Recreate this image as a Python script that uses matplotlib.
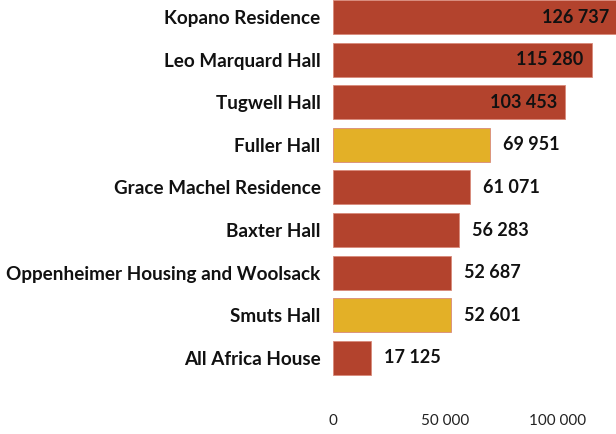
import matplotlib
matplotlib.use('Agg')
import matplotlib.pyplot as plt

plt.rcParams['font.family'] = ['Lato', 'DejaVu Sans']

halls = ['Kopano Residence', 'Leo Marquard Hall', 'Tugwell Hall', 'Fuller Hall',
         'Grace Machel Residence', 'Baxter Hall', 'Oppenheimer Housing and Woolsack',
         'Smuts Hall', 'All Africa House']
values = [126737, 115280, 103453, 69951, 61071, 56283, 52687, 52601, 17125]
highlight = [False, False, False, True, False, False, False, True, False]
inside = [True, True, True, False, False, False, False, False, False]

RED = '#b3432d'
GOLD = '#e3b027'


def fmt(v):
    return f'{v:,}'.replace(',', ' ')


fig = plt.figure(figsize=(6.16, 4.34), dpi=100)
ax = fig.add_axes([333 / 616, 34 / 434, 283 / 616, 400 / 434])

ypos = list(range(len(halls)))
colors = [GOLD if h else RED for h in highlight]
ax.barh(ypos, values, height=0.8, color=colors, edgecolor='#d98a7a',
        linewidth=0.6)

for y, v, ins in zip(ypos, values, inside):
    if ins:
        ax.annotate(fmt(v), (v, y), xytext=(-6, 0), textcoords='offset points',
                    ha='right', va='center', fontsize=13, fontweight='bold',
                    color='#111111', annotation_clip=False)
    else:
        ax.annotate(fmt(v), (v, y), xytext=(9, 0), textcoords='offset points',
                    ha='left', va='center', fontsize=13, fontweight='bold',
                    color='#111111')

ax.set_xlim(0, 126000)
ax.set_ylim(8.99, -0.4)
ax.set_yticks(ypos)
ax.set_yticklabels(halls, fontsize=13.6, fontweight='bold', color='#111111')
ax.set_xticks([0, 50000, 100000])
ax.set_xticklabels([fmt(t) for t in [0, 50000, 100000]], fontsize=11, color='#222222')
ax.tick_params(axis='both', length=0)
ax.tick_params(axis='y', pad=9)
ax.tick_params(axis='x', pad=10)
for s in ax.spines.values():
    s.set_visible(False)

fig.savefig('out.png', dpi=100)
